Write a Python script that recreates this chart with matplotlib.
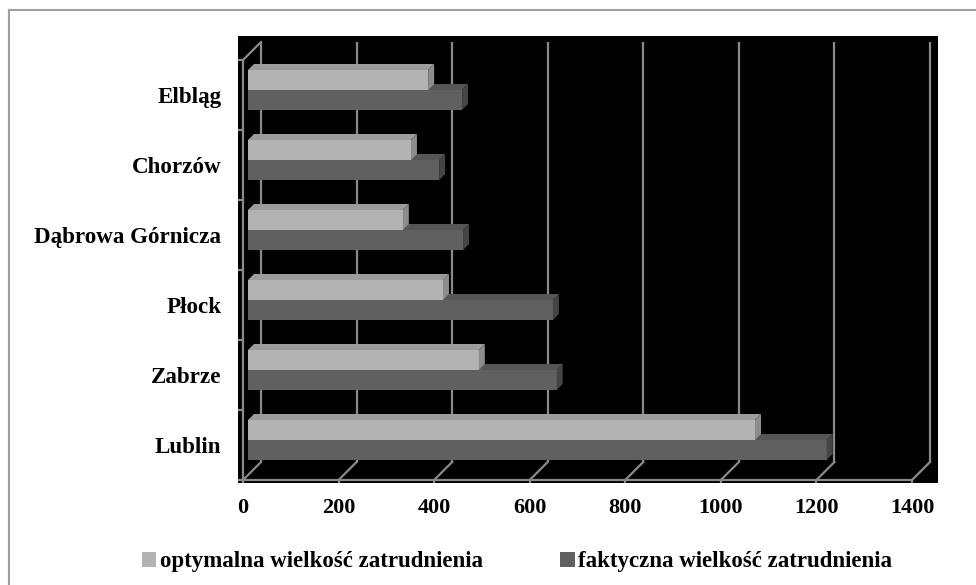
import matplotlib
matplotlib.use("Agg")
import matplotlib.pyplot as plt
from matplotlib.patches import Polygon, Patch
from matplotlib.lines import Line2D

categories = ["Lublin", "Zabrze", "Płock", "Dąbrowa Górnicza", "Chorzów", "Elbląg"]
optymalna = [1061, 483, 408, 324, 341, 377]
faktyczna = [1211, 646, 638, 450, 400, 448]
xticks = [0, 200, 400, 600, 800, 1000, 1200, 1400]
series_names = ["optymalna wielkość zatrudnienia", "faktyczna wielkość zatrudnienia"]

W, H = 976, 585
fig = plt.figure(figsize=(W / 100, H / 100), dpi=100)
fig.patch.set_facecolor("white")

# axes = black wall region (pixels 238..938, 36..483)
ax = fig.add_axes([238 / W, (H - 483) / H, 700 / W, 447 / H])
ax.set_facecolor("black")
sx = (912 - 243) / 1400.0  # px per unit
sy = 70.0                  # px per category
ax.set_xlim(-5 / sx, 695 / sx)
ax.set_ylim(-3 / sy, 444 / sy)
for s in ax.spines.values():
    s.set_visible(False)

DX = 18 / sx
DY = 18 / sy
GRID = "#8a8a8a"
LW = 1.6
n = len(categories)

# back wall gridlines and floor diagonals
for v in xticks:
    ax.plot([v + DX, v + DX], [DY, n + DY], color=GRID, lw=LW, zorder=1, solid_capstyle="butt")
    ax.plot([v, v + DX], [0, DY], color=GRID, lw=LW, zorder=1)
    ax.plot([v, v], [0, -3 / sy], color=GRID, lw=LW, zorder=1)
# front floor line and left wall
ax.plot([0, 1400], [0, 0], color=GRID, lw=LW, zorder=1)
ax.plot([0, 0], [-3 / sy, n], color=GRID, lw=LW, zorder=1)
ax.plot([0, DX], [n, n + DY], color=GRID, lw=LW, zorder=1)
for i in range(n + 1):
    ax.plot([-5 / sx, 0], [i, i], color=GRID, lw=LW, zorder=1)

# bars
t = 5 / 18.0
d0x, d0y = DX * t, DY * t
bh = 20 / sy
ex, ey = 6 / sx, 6 / sy
ypos = [i + 0.5 + d0y for i in range(n)]

def draw_bar(y_bottom, v, front, top, side, z):
    ax.barh(y_bottom, v, height=bh, left=d0x, align="edge", color=front, zorder=z, linewidth=0)
    x1 = d0x + v
    y1 = y_bottom + bh
    ax.add_patch(Polygon([(d0x, y1), (x1, y1), (x1 + ex, y1 + ey), (d0x + ex, y1 + ey)],
                         closed=True, facecolor=top, edgecolor="none", zorder=z))
    ax.add_patch(Polygon([(x1, y_bottom), (x1 + ex, y_bottom + ey), (x1 + ex, y1 + ey), (x1, y1)],
                         closed=True, facecolor=side, edgecolor="none", zorder=z))

for i in range(n):
    draw_bar(ypos[i] - bh, faktyczna[i], "#606060", "#565656", "#454545", 3)
for i in range(n):
    draw_bar(ypos[i], optymalna[i], "#b3b3b3", "#9c9c9c", "#8c8c8c", 4)

cat_font = dict(family="Liberation Serif", weight="bold", size=16.6)
tick_font = dict(family="Liberation Serif", weight="bold", size=16)
ax.set_yticks([i + 0.5 for i in range(n)])
ax.set_yticklabels(categories, fontdict=cat_font)
ax.set_xticks(xticks)
ax.set_xticklabels([str(v) for v in xticks], fontdict=tick_font)
ax.tick_params(axis="y", length=0, pad=12)
ax.tick_params(axis="x", length=0, pad=11)

handles = [Patch(facecolor="#b3b3b3", edgecolor="none"), Patch(facecolor="#606060", edgecolor="none")]
fig.legend(handles, series_names, loc="center", bbox_to_anchor=(517 / W, 1 - 562 / H), ncol=2,
           frameon=False, prop=dict(family="Liberation Serif", weight="bold", size=16.5),
           handlelength=0.62, handleheight=0.62, handletextpad=0.15, columnspacing=3.4)

# outer frame (top and left)
fig.add_artist(Line2D([9 / W, 1], [1 - 10 / H, 1 - 10 / H], color="#a0a0a0", lw=1.5))
fig.add_artist(Line2D([9 / W, 9 / W], [0, 1 - 10 / H], color="#a0a0a0", lw=1.5))

fig.savefig("out.png", dpi=100, facecolor="white")
